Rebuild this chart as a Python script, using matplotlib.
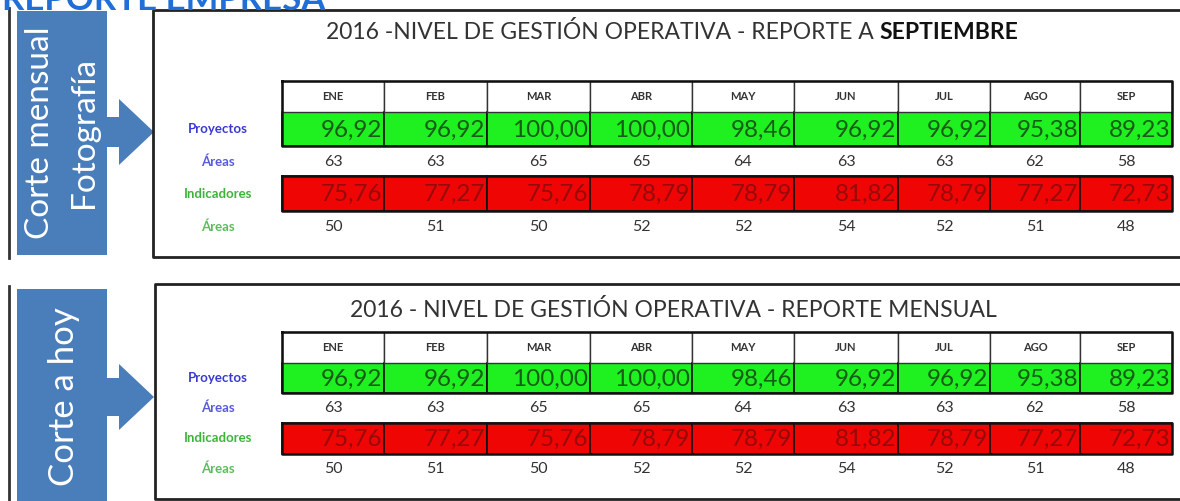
import matplotlib.pyplot as plt
from matplotlib.patches import Rectangle, Polygon

plt.rcParams['font.family'] = ['Lato', 'DejaVu Sans']

# datos (iguales en ambos cortes)
meses = ['ENE', 'FEB', 'MAR', 'ABR', 'MAY', 'JUN', 'JUL', 'AGO', 'SEP']
proyectos = [96.92, 96.92, 100.00, 100.00, 98.46, 96.92, 96.92, 95.38, 89.23]
areas_proyectos = [63, 63, 65, 65, 64, 63, 63, 62, 58]
indicadores = [75.76, 77.27, 75.76, 78.79, 78.79, 81.82, 78.79, 77.27, 72.73]
areas_indicadores = [50, 51, 50, 52, 52, 54, 52, 51, 48]

titulo_1 = ('2016 -NIVEL DE GESTIÓN OPERATIVA - REPORTE A', 'SEPTIEMBRE')
titulo_2 = ('2016 - NIVEL DE GESTIÓN OPERATIVA - REPORTE MENSUAL', '')
etiqueta_1 = ['Corte mensual', 'Fotografía']
etiqueta_2 = ['Corte a hoy']

# layout en pixeles
col_edges = [282, 384, 487, 590, 692, 794, 898, 990, 1080, 1172]
AZUL = '#4a7ebb'
VERDE = '#1ff01f'
ROJO = '#f00505'


def fmt(v):
    return f'{v:.2f}'.replace('.', ',')


def draw_side(ax, y0, y1, lines, tip_y, head, shaft, x_lines, fs):
    ax.plot([9, 9], [y0 - 3, y1 + 3], color='#333333', lw=2)
    ax.add_patch(Rectangle((17, y0), 90, y1 - y0, color=AZUL, lw=0))
    arrow = [(106, tip_y - shaft), (119, tip_y - shaft), (119, tip_y - head),
             (154, tip_y), (119, tip_y + head), (119, tip_y + shaft),
             (106, tip_y + shaft)]
    ax.add_patch(Polygon(arrow, closed=True, color=AZUL, lw=0))
    for txt, x in zip(lines, x_lines):
        ax.text(x, (y0 + y1) / 2, txt, rotation=90, ha='center', va='center',
                color='white', fontsize=fs)


def draw_panel(ax, box, title, title_x, title_y, rows):
    bx0, by0, by1 = box
    ax.plot([1185, bx0, bx0, 1185], [by0, by0, by1, by1], color='#222222', lw=2)
    t1 = ax.text(title_x, title_y, title[0], ha='left', va='center',
                 fontsize=16.5, color='#333333')
    if title[1]:
        ax.annotate(title[1], xy=(1, 0), xycoords=t1, xytext=(4, 0),
                    textcoords='offset points', ha='left', va='bottom',
                    fontsize=16.5, fontweight='bold', color='#111111')

    h0, h1, g1, a1, r0, r1, a2 = rows
    left, right = col_edges[0], col_edges[-1]
    # filas coloreadas
    for i in range(len(meses)):
        xa, xb = col_edges[i], col_edges[i + 1]
        xc = (xa + xb) / 2
        ax.add_patch(Rectangle((xa, h1), xb - xa, g1 - h1, facecolor=VERDE,
                               edgecolor='#111111', lw=1.2))
        ax.add_patch(Rectangle((xa, r0), xb - xa, r1 - r0, facecolor=ROJO,
                               edgecolor='#111111', lw=1.2))
        ax.add_patch(Rectangle((xa, h0), xb - xa, h1 - h0, facecolor='white',
                               edgecolor='#333333', lw=1.0))
        ax.text(xc, (h0 + h1) / 2, meses[i], ha='center', va='center',
                fontsize=8, fontweight='bold', color='#333333')
        ax.text(xb - 2, (h1 + g1) / 2 + 1, fmt(proyectos[i]), ha='right',
                va='center', fontsize=17.5, color='#175c17')
        ax.text(xc, a1, str(areas_proyectos[i]), ha='center', va='center',
                fontsize=11.5, color='#333333')
        ax.text(xb - 2, (r0 + r1) / 2 + 1, fmt(indicadores[i]), ha='right',
                va='center', fontsize=17.5, color='#960a0a')
        ax.text(xc, a2, str(areas_indicadores[i]), ha='center', va='center',
                fontsize=11.5, color='#333333')
    ax.plot([left, right, right, left, left], [h0, h0, g1, g1, h0],
            color='#111111', lw=1.8)
    ax.plot([left, right, right, left, left], [r0, r0, r1, r1, r0],
            color='#111111', lw=1.8)

    ax.text(218, (h1 + g1) / 2, 'Proyectos', ha='center', va='center',
            fontsize=9.5, fontweight='bold', color='#3a3ad0')
    ax.text(218, a1, 'Áreas', ha='center', va='center',
            fontsize=9.5, fontweight='bold', color='#5a5ae0')
    ax.text(218, (r0 + r1) / 2, 'Indicadores', ha='center', va='center',
            fontsize=9.5, fontweight='bold', color='#3cb43c')
    ax.text(218, a2, 'Áreas', ha='center', va='center',
            fontsize=9.5, fontweight='bold', color='#5cbc5c')


fig = plt.figure(figsize=(11.8, 5.01), dpi=100)
ax = fig.add_axes([0, 0, 1, 1])
ax.set_xlim(0, 1180)
ax.set_ylim(501, 0)
ax.axis('off')

# encabezado cortado arriba (como en la captura original)
ax.text(2, 10, 'REPORTE EMPRESA', ha='left', va='baseline', fontsize=25,
        fontweight='bold', color='#1f6fd6')

draw_side(ax, 11, 255, etiqueta_1, 132, 33, 15, [40, 84], 24)
draw_side(ax, 289, 505, etiqueta_2, 397, 33, 19, [64], 25)

draw_panel(ax, (153, 10, 257), titulo_1, 326, 32,
           (81, 112, 146, 162, 176, 211, 227))
draw_panel(ax, (155, 284, 499), titulo_2, 350, 310,
           (332, 363, 393, 408, 423, 454, 469))

fig.savefig('out.png', dpi=100)
